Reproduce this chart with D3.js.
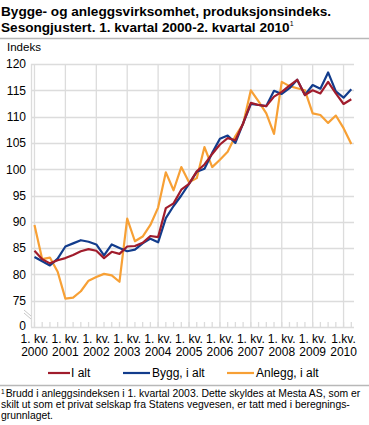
<!DOCTYPE html>
<html>
<head>
<meta charset="utf-8">
<script src="https://cdn.jsdelivr.net/npm/d3@7"></script>
<style>
  body { margin: 0; background: #fff; }
  svg { font-family: "Liberation Sans", Arial, sans-serif; display: block; }
</style>
</head>
<body>
<div id="chart"></div>
<script>
// Quarter labels: 1. kvartal 2000 - 2. kvartal 2010 (42 quarters)
var years = ["2000", "2001", "2002", "2003", "2004", "2005", "2006", "2007", "2008", "2009", "2010"];
var yTicks = [75, 80, 85, 90, 95, 100, 105, 110, 115, 120];

// Series values
var iAlt = [84.5, 82.9, 82.1, 82.7, 83.1, 83.7, 84.4, 84.8, 84.5, 83.1, 84.3, 83.9,
  85.3, 85.4, 86.0, 87.3, 87.1, 92.6, 93.5, 96.1, 97.2, 99.6, 100.9, 102.9,
  104.7, 105.9, 105.5, 108.7, 112.6, 112.2, 112.0, 113.8, 114.7, 115.9, 117.0, 114.1,
  115.0, 114.4, 116.6, 114.4, 112.4, 113.3];
var bygg = [83.3, 82.5, 81.7, 83.0, 85.3, 85.9, 86.5, 86.2, 85.7, 83.6, 85.7, 85.0,
  84.4, 84.7, 85.9, 86.8, 86.1, 90.7, 93.0, 95.0, 97.2, 99.5, 100.1, 103.1,
  105.8, 106.4, 105.0, 108.7, 112.4, 112.2, 112.0, 114.9, 114.3, 115.4, 117.0, 114.1,
  116.0, 115.3, 118.4, 114.8, 113.6, 115.2];
var anlegg = [89.4, 82.9, 83.2, 80.5, 75.4, 75.6, 76.8, 78.8, 79.5, 80.1, 79.8, 78.6,
  90.6, 86.3, 87.2, 89.4, 92.7, 99.4, 96.0, 100.4, 97.5, 98.3, 104.2, 100.4,
  101.8, 103.3, 106.3, 108.6, 115.0, 112.9, 110.6, 106.7, 116.6, 115.8, 115.4, 115.0,
  110.6, 110.3, 108.8, 110.2, 107.8, 104.8];

var seriesNames = ["I alt", "Bygg, i alt", "Anlegg, i alt"];
var seriesColors = ["#a01c2c", "#123c8c", "#f7a035"];
var allSeries = [iAlt, bygg, anlegg];

var svgWidth = 369;
var svgHeight = 425;

// plot area
var plot = { left: 31, right: 354, top: 64, bottom: 327 };

var svg = d3.select("#chart")
  .append("svg")
  .attr("width", svgWidth)
  .attr("height", svgHeight);

svg.append("rect")
  .attr("width", svgWidth)
  .attr("height", svgHeight)
  .attr("fill", "#fff");

// Title
var title = svg.append("text")
  .attr("font-weight", "bold")
  .attr("font-size", "13.6px")
  .attr("fill", "#000");
title.append("tspan").attr("x", 1).attr("y", 16)
  .text("Bygge- og anleggsvirksomhet, produksjonsindeks.");
title.append("tspan").attr("x", 1).attr("y", 32)
  .text("Sesongjustert. 1. kvartal 2000-2. kvartal 2010");
title.append("tspan").attr("font-size", "7px").attr("font-weight", "normal")
  .attr("dy", -6).text("1");

svg.append("line")
  .attr("x1", 0).attr("x2", svgWidth)
  .attr("y1", 38.5).attr("y2", 38.5)
  .attr("stroke", "#b8b8b8").attr("stroke-width", 1.5);

svg.append("text")
  .attr("x", 7).attr("y", 51)
  .attr("font-size", "11.5px")
  .text("Indeks");

// scales
var xScale = d3.scaleLinear()
  .domain([-0.45, 41.35])
  .range([plot.left, plot.right]);

var yScale = d3.scaleLinear()
  .domain([70, 120])
  .range([plot.bottom, plot.top]);

var quarters = d3.range(iAlt.length);

// gridlines
var grid = svg.append("g").attr("stroke", "#dcdcdc").attr("stroke-width", 1.3);

grid.selectAll("line.h")
  .data(yTicks)
  .enter()
  .append("line")
  .attr("class", "h")
  .attr("x1", plot.left).attr("x2", plot.right)
  .attr("y1", d => Math.round(yScale(d)) + 0.5)
  .attr("y2", d => Math.round(yScale(d)) + 0.5);

grid.selectAll("line.v")
  .data(years)
  .enter()
  .append("line")
  .attr("class", "v")
  .attr("x1", (d, i) => xScale(i * 4)).attr("x2", (d, i) => xScale(i * 4))
  .attr("y1", plot.top).attr("y2", plot.bottom);

// quarter ticks
grid.selectAll("line.t")
  .data(quarters)
  .enter()
  .append("line")
  .attr("class", "t")
  .attr("x1", d => xScale(d)).attr("x2", d => xScale(d))
  .attr("y1", plot.bottom - 5).attr("y2", plot.bottom);

// axes lines
grid.append("line")
  .attr("x1", plot.left).attr("x2", plot.right)
  .attr("y1", plot.bottom + 0.5).attr("y2", plot.bottom + 0.5);
grid.append("line")
  .attr("x1", plot.left + 0.5).attr("x2", plot.left + 0.5)
  .attr("y1", plot.top).attr("y2", plot.bottom);

// axis break marks
var brk = svg.append("g").attr("stroke", "#c8c8c8").attr("stroke-width", 1);
[0, 3].forEach(function(off) {
  brk.append("line")
    .attr("x1", 24).attr("y1", 310 + off)
    .attr("x2", 31).attr("y2", 316 + off);
});

// y tick labels
svg.append("g").selectAll("text")
  .data(yTicks)
  .enter()
  .append("text")
  .attr("x", 26)
  .attr("y", d => yScale(d))
  .attr("dy", "0.36em")
  .attr("text-anchor", "end")
  .attr("font-size", "12px")
  .attr("fill", "#000")
  .text(d => d);

svg.append("text")
  .attr("x", 26).attr("y", yScale(70) - 1.5)
  .attr("dy", "0.36em")
  .attr("text-anchor", "end")
  .attr("font-size", "12px")
  .text("0");

// x labels
var xLbls = svg.append("g").selectAll("text")
  .data(years)
  .enter()
  .append("text")
  .attr("text-anchor", "middle")
  .attr("font-size", "12px")
  .attr("fill", "#000");
xLbls.append("tspan")
  .attr("x", (d, i) => xScale(i * 4))
  .attr("y", 343)
  .text((d, i) => i === years.length - 1 ? "1.kv." : "1. kv.");
xLbls.append("tspan")
  .attr("x", (d, i) => xScale(i * 4))
  .attr("y", 356)
  .text(d => d);

// lines: draw Anlegg first, I alt on top
var line = d3.line()
  .x((d, i) => xScale(i))
  .y(d => yScale(d));

[2, 1, 0].forEach(function(k) {
  svg.append("path")
    .datum(allSeries[k])
    .attr("fill", "none")
    .attr("stroke", seriesColors[k])
    .attr("stroke-width", 2.2)
    .attr("stroke-linejoin", "round")
    .attr("d", line);
});

// legend
var legendX = [48, 123, 227];
var legend = svg.append("g").selectAll("g")
  .data(seriesNames)
  .enter()
  .append("g")
  .attr("transform", (d, i) => `translate(${legendX[i]}, 377)`);
legend.append("line")
  .attr("x1", 0).attr("x2", (d, i) => i === 0 ? 22 : 27)
  .attr("y1", -4).attr("y2", -4)
  .attr("stroke", (d, i) => seriesColors[i])
  .attr("stroke-width", 2.2);
legend.append("text")
  .attr("x", (d, i) => i === 0 ? 23 : 29)
  .attr("font-size", "12px")
  .text(d => d);

svg.append("line")
  .attr("x1", 0).attr("x2", svgWidth)
  .attr("y1", 385.5).attr("y2", 385.5)
  .attr("stroke", "#b8b8b8").attr("stroke-width", 1.5);

// footnote
var notes = [
  "Brudd i anleggsindeksen i 1. kvartal 2003. Dette skyldes at Mesta AS, som er",
  "skilt ut som et privat selskap fra Statens vegvesen, er tatt med i beregnings-",
  "grunnlaget."
];
var fn = svg.append("text").attr("font-size", "10.4px").attr("fill", "#000");
fn.append("tspan").attr("x", 1).attr("y", 394).attr("font-size", "6.5px").text("1");
fn.append("tspan").attr("dx", 1).attr("y", 397).text(notes[0]);
fn.append("tspan").attr("x", 1).attr("y", 408).text(notes[1]);
fn.append("tspan").attr("x", 1).attr("y", 419).text(notes[2]);
</script>
</body>
</html>
